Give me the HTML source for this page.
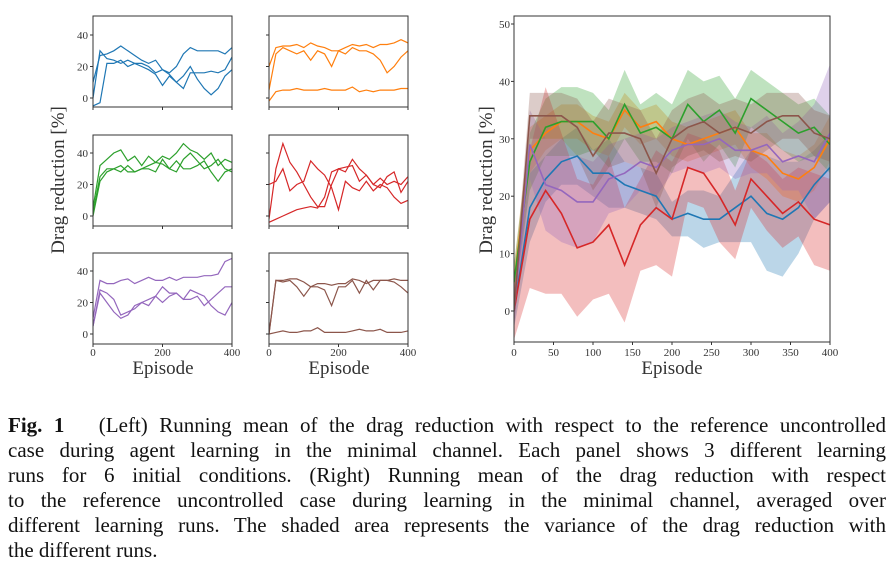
<!DOCTYPE html>
<html><head><meta charset="utf-8">
<style>
html,body{margin:0;padding:0;background:#fff;}
body{width:894px;height:568px;position:relative;overflow:hidden;font-family:"Liberation Serif",serif;}
svg text{font-family:"Liberation Serif",serif;fill:#333;}
#caption{position:absolute;left:8px;top:413px;width:878px;font-size:21px;line-height:25px;color:#111;}
#caption div{text-align:justify;text-align-last:justify;white-space:nowrap;}
#caption div.last{text-align-last:left;}
</style></head><body>
<svg id="fig" width="894" height="400" style="position:absolute;left:0;top:0"></svg>
<div id="caption">
<div><b>Fig. 1</b>&nbsp;&nbsp;&nbsp;(Left) Running mean of the drag reduction with respect to the reference uncontrolled</div>
<div>case during agent learning in the minimal channel. Each panel shows 3 different learning</div>
<div>runs for 6 initial conditions. (Right) Running mean of the drag reduction with respect</div>
<div>to the reference uncontrolled case during learning in the minimal channel, averaged over</div>
<div>different learning runs. The shaded area represents the variance of the drag reduction with</div>
<div class="last">the different runs.</div>
</div>
<script>
const episodes=[0,20,40,60,80,100,120,140,160,180,200,220,240,260,280,300,320,340,360,380,400];
const colors=["#1f77b4","#ff7f0e","#2ca02c","#d62728","#9467bd","#8c564b"];
const seriesNames=["blue","orange","green","red","purple","brown"];
const blueRuns=[
[0,30,25,24,22,24,22,22,20,16,18,16,20,28,32,30,30,30,30,28,32],
[10,27,28,30,33,30,27,24,22,24,18,15,10,14,20,12,6,2,6,14,18],
[-5,-3,22,22,24,20,22,20,18,15,8,14,10,6,16,16,16,17,16,18,26]];
const orangeRuns=[
[20,32,33,33,34,32,35,33,32,30,30,32,34,33,34,32,34,34,35,37,35],
[5,28,32,30,28,30,24,30,28,20,30,28,32,30,30,28,24,16,20,26,30],
[-2,4,5,5,6,5,5,5,6,5,5,5,7,4,5,4,5,5,5,6,6]];
const greenRuns=[
[5,32,36,40,42,35,38,32,38,34,38,36,40,46,42,40,36,40,32,36,34],
[2,25,30,30,28,32,28,30,30,28,36,30,28,36,40,35,30,32,36,30,28],
[0,22,28,30,32,28,28,30,32,34,33,30,35,30,30,32,35,28,22,28,30]];
const redRuns=[
[-2,30,46,34,28,20,12,6,6,20,30,28,36,30,26,20,18,25,28,15,22],
[-4,-2,0,2,4,5,6,5,12,28,30,31,32,22,26,20,24,20,22,20,25],
[20,22,30,16,20,22,35,30,26,18,4,22,18,16,22,16,20,18,12,8,10]];
const purpleRuns=[
[10,34,32,32,34,35,32,34,36,34,34,36,34,36,36,36,37,37,38,46,48],
[5,28,26,22,12,14,16,20,18,24,20,24,26,22,28,26,24,18,14,12,20],
[5,26,20,14,10,12,18,20,22,24,30,26,26,22,22,24,18,22,26,30,30]];
const brownRuns=[
[0,34,34,35,35,33,30,32,32,31,32,32,35,34,32,34,34,34,35,34,34],
[0,34,33,34,30,24,30,30,28,18,30,30,34,26,34,28,34,34,33,30,26],
[0,1,2,1,1,2,2,4,1,1,1,1,2,3,2,2,3,1,1,1,2]];
const panelRuns=[blueRuns,orangeRuns,greenRuns,redRuns,purpleRuns,brownRuns];
const leftYTicks=[0,20,40];
const leftXTicks=[0,200,400];
const blueMean=[0,18,23,26,27,24,24,22,21,20,16,17,16,16,18,20,17,16,18,22,25];
const orangeMean=[5,28,31,33,33,31,30,35,32,33,30,29,30,31,32,28,27,24,23,25,30];
const greenMean=[5,26,32,33,33,33,30,36,31,32,30,36,33,35,31,37,35,33,31,32,29];
const redMean=[0,16,21,17,11,12,15,8,15,18,16,25,24,20,15,23,20,17,19,16,15];
const purpleMean=[0,29,22,21,19,19,23,24,26,25,28,29,29,30,28,28,29,26,27,26,31];
const brownMean=[0,34,34,34,32,27,31,31,30,24,30,32,33,31,32,31,33,34,34,31,30];
const blueSpread=[3,6,4,4,5,4,6,4,4,4,3,4,5,4,6,8,10,10,8,6,6];
const orangeSpread=[3,4,3,3,3,3,3,3,3,3,3,3,3,3,3,3,4,4,4,4,4];
const greenSpread=[3,5,5,6,6,5,5,6,5,6,6,6,7,6,6,5,5,5,5,5,5];
const redSpread=[5,12,18,14,12,10,12,10,8,10,10,6,6,8,6,5,6,6,6,8,8];
const purpleSpread=[3,6,8,9,8,7,6,6,5,5,4,4,5,5,5,4,5,5,6,10,12];
const brownSpread=[3,4,4,4,5,6,6,5,5,6,5,5,5,5,5,5,5,4,4,4,4];
const means=[blueMean,orangeMean,greenMean,redMean,purpleMean,brownMean];
const spreads=[blueSpread,orangeSpread,greenSpread,redSpread,purpleSpread,brownSpread];
const rightYTicks=[0,10,20,30,40,50];
const rightXTicks=[0,50,100,150,200,250,300,350,400];

const NS="http://www.w3.org/2000/svg";
const svg=document.getElementById('fig');
function mk(tag,attrs,parent){const e=document.createElementNS(NS,tag);for(const k in attrs)e.setAttribute(k,attrs[k]);(parent||svg).appendChild(e);return e;}

const colX=[93,269], rowTop=[16,135,253], pw=139, ph=91;
const zeroY=[98,216,334];
const pxPerUnit=63/40;
for(let i=0;i<6;i++){
  const col=i%2,row=Math.floor(i/2);
  const x0=colX[col],top=rowTop[row],y0=zeroY[row];
  const g=mk('g',{});
  
  
  const xs=v=>x0+v/400*pw, ys=v=>y0-v*pxPerUnit;
  const cp=mk('clipPath',{id:'cp'+i},g);
  mk('rect',{x:x0,y:top,width:pw,height:ph},cp);
  panelRuns[i].forEach((run,r)=>{
    const d=run.map((v,k)=>(k?'L':'M')+xs(episodes[k]).toFixed(1)+','+ys(v).toFixed(1)).join('');
    const p=mk('path',{d:d,fill:'none',stroke:colors[i],'stroke-width':1.2,'clip-path':'url(#cp'+i+')'},g);
    
    
  });
  const fr=mk('rect',{x:x0,y:top,width:pw,height:ph,fill:'none',stroke:'#333','stroke-width':1},g);
  
  
  leftYTicks.forEach(t=>{
    mk('line',{x1:x0-3,x2:x0,y1:ys(t),y2:ys(t),stroke:'#333'},g);
    if(col===0){const tx=mk('text',{x:x0-5,y:ys(t)+4,'text-anchor':'end','font-size':11},g);tx.textContent=t;
      
      }
  });
  leftXTicks.forEach(t=>{
    mk('line',{x1:xs(t),x2:xs(t),y1:top+ph,y2:top+ph+3,stroke:'#333'},g);
    if(row===2){const tx=mk('text',{x:xs(t),y:356,'text-anchor':'middle','font-size':11},g);tx.textContent=t;
      
      }
  });
}
function label(txt,x,y,size,name,rot){
  const t=mk('text',{x:x,y:y,'text-anchor':'middle','font-size':size});
  if(rot)t.setAttribute('transform','rotate(-90 '+x+' '+y+')');
  t.textContent=txt;
  
  
}
label('Episode',163,374,19,'left-x-axis-title-1');
label('Episode',339,374,19,'left-x-axis-title-2');
label('Drag reduction [%]',64,180,19,'left-y-axis-title',true);

const RX0=514,RX1=830,RT=16,RB=342,RY0=311,RU=287/50;
const rx=v=>RX0+v/400*(RX1-RX0), ry=v=>RY0-v*RU;
const rg=mk('g',{});


const rcp=mk('clipPath',{id:'rcp'},rg);
mk('rect',{x:RX0,y:RT,width:RX1-RX0,height:RB-RT},rcp);
means.forEach((m,i)=>{
  const up=m.map((v,k)=>rx(episodes[k]).toFixed(1)+','+ry(v+spreads[i][k]).toFixed(1));
  const lo=m.map((v,k)=>rx(episodes[k]).toFixed(1)+','+ry(v-spreads[i][k]).toFixed(1)).reverse();
  const b=mk('path',{d:'M'+up.join('L')+'L'+lo.join('L')+'Z',fill:colors[i],'fill-opacity':0.3,stroke:'none','clip-path':'url(#rcp)'},rg);
  
  
});
means.forEach((m,i)=>{
  const d=m.map((v,k)=>(k?'L':'M')+rx(episodes[k]).toFixed(1)+','+ry(v).toFixed(1)).join('');
  const p=mk('path',{d:d,fill:'none',stroke:colors[i],'stroke-width':1.6,'clip-path':'url(#rcp)'},rg);
  
  
});
const rf=mk('rect',{x:RX0,y:RT,width:RX1-RX0,height:RB-RT,fill:'none',stroke:'#333'},rg);


rightYTicks.forEach(t=>{
  mk('line',{x1:RX0-3,x2:RX0,y1:ry(t),y2:ry(t),stroke:'#333'},rg);
  const tx=mk('text',{x:RX0-4,y:ry(t)+4,'text-anchor':'end','font-size':11},rg);tx.textContent=t;
  
  
});
rightXTicks.forEach(t=>{
  mk('line',{x1:rx(t),x2:rx(t),y1:RB,y2:RB+3,stroke:'#333'},rg);
  const tx=mk('text',{x:rx(t),y:356,'text-anchor':'middle','font-size':11},rg);tx.textContent=t;
  
  
});
label('Episode',672,374,19,'right-x-axis-title');
label('Drag reduction [%]',492,180,19,'right-y-axis-title',true);
</script>
</body></html>
